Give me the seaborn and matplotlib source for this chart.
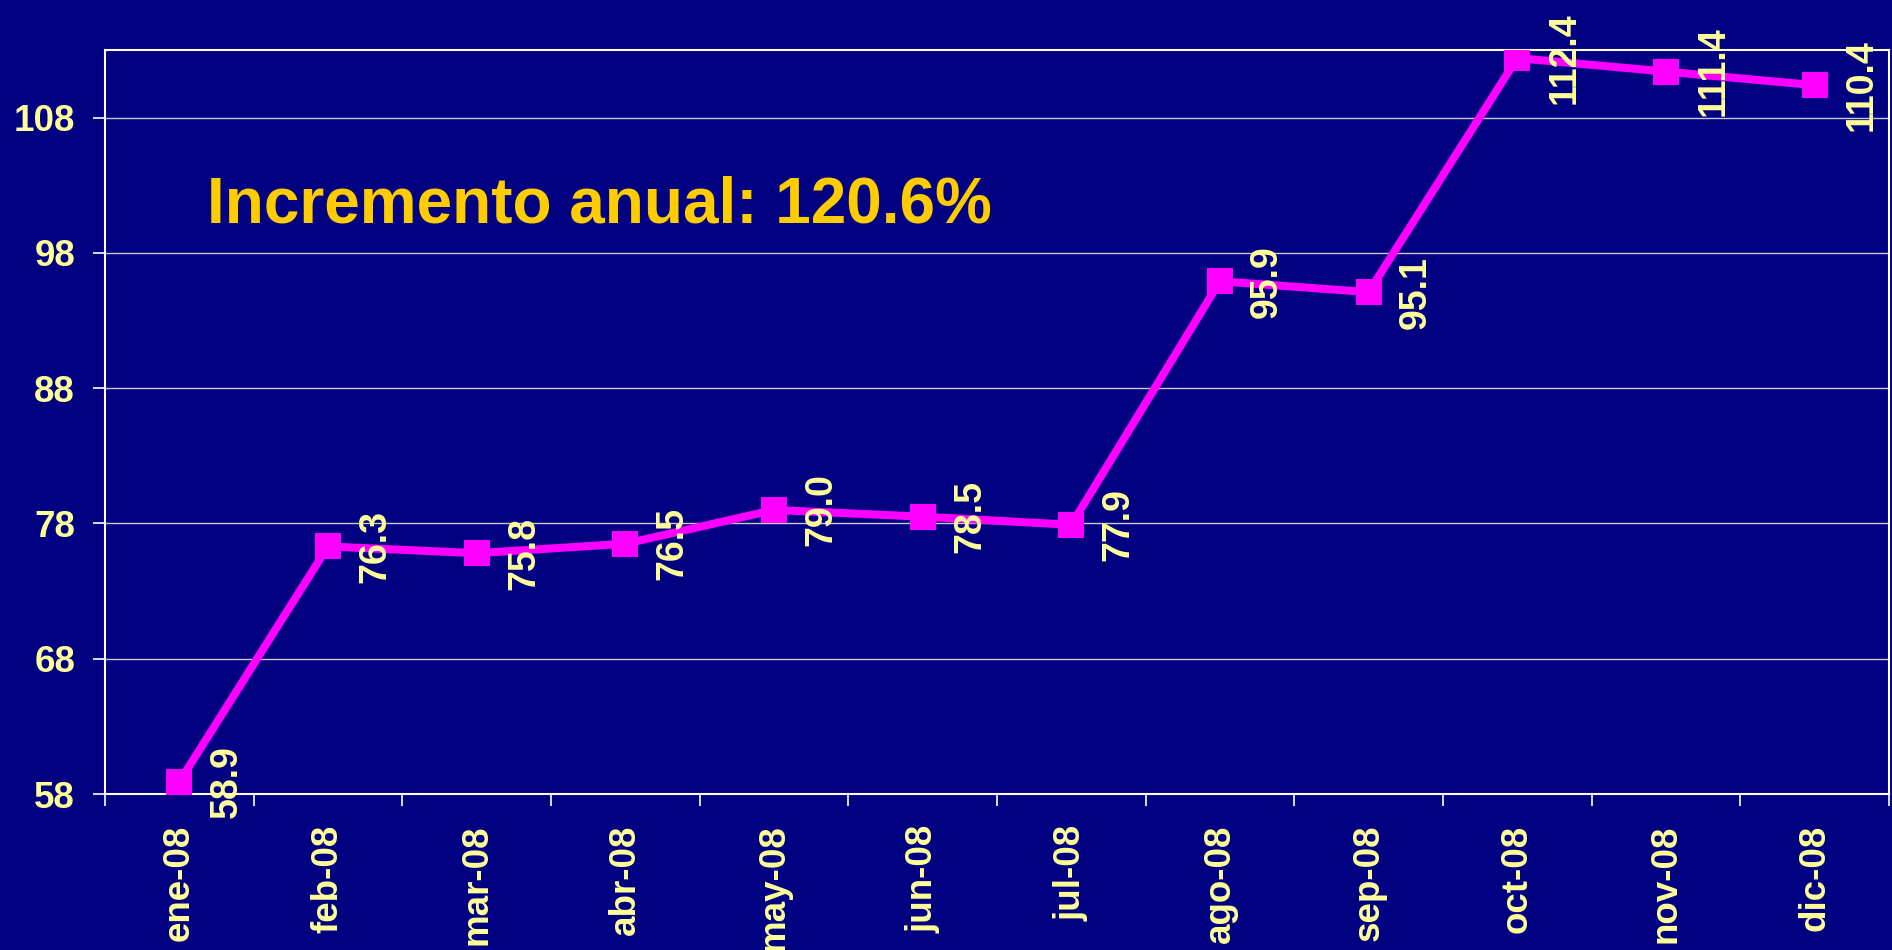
import matplotlib
matplotlib.use("Agg")
import matplotlib.pyplot as plt
import pandas as pd
import seaborn as sns

# monthly values
months = ["ene-08", "feb-08", "mar-08", "abr-08", "may-08", "jun-08",
          "jul-08", "ago-08", "sep-08", "oct-08", "nov-08", "dic-08"]
values = [58.9, 76.3, 75.8, 76.5, 79.0, 78.5, 77.9, 95.9, 95.1, 112.4, 111.4, 110.4]
yticks = [58, 68, 78, 88, 98, 108]
headline = "Incremento anual: 120.6%"

navy = "#000080"
label_yellow = "#FFFF99"
gold = "#FFCC00"
magenta = "#FF00FF"

sns.set_style("dark")
plt.rcParams["font.family"] = ["Liberation Sans", "DejaVu Sans"]
plt.rcParams["font.weight"] = "bold"

df = pd.DataFrame({"pos": range(len(months)), "value": values})

fig = plt.figure(figsize=(18.92, 9.5), dpi=100, facecolor=navy)
ax = fig.add_axes([0.0555, 0.1642, 0.9429, 0.7832])
ax.set_facecolor(navy)

sns.lineplot(data=df, x="pos", y="value", ax=ax, color=magenta, linewidth=5.8,
             marker="s", markersize=19, markeredgewidth=0, sort=False, zorder=3)

# data labels, rotated, to the right of each marker
for i, v in enumerate(values):
    ax.annotate(f"{v:.1f}", xy=(i, v), xytext=(34, 0), textcoords="offset points",
                rotation=90, ha="center", va="center", color=label_yellow,
                fontsize=27, fontweight="bold", annotation_clip=False, zorder=4)

ax.set_xlim(-0.5, len(months) - 0.5)
ax.set_ylim(58, 113)

ax.set_yticks(yticks)
ax.set_yticklabels([str(t) for t in yticks])
ax.set_xticks(range(len(months)))
ax.set_xticklabels(months, rotation=90, va="top", ha="center")
ax.set_xticks([i - 0.5 for i in range(len(months) + 1)], minor=True)

ax.tick_params(axis="y", which="major", length=8.6, width=1.2, color="white",
               pad=13, labelsize=26.5, labelcolor=label_yellow, left=True)
ax.tick_params(axis="x", which="major", length=0, pad=22, labelsize=26.5,
               labelcolor=label_yellow)
ax.tick_params(axis="x", which="minor", length=8.6, width=1.2, color="white",
               bottom=True)

ax.grid(False)
ax.grid(axis="y", which="major", color="#C8C8D8", linewidth=1.0)
ax.set_axisbelow(True)
for side in ["left", "bottom", "top", "right"]:
    ax.spines[side].set_visible(True)
    ax.spines[side].set_color("white")
    ax.spines[side].set_linewidth(1.5)

ax.set_xlabel("")
ax.set_ylabel("")

ax.text(0.057, 0.7675, headline, transform=ax.transAxes, ha="left", va="baseline",
        color=gold, fontsize=46, fontweight="bold")

fig.savefig("out.png", dpi=100, facecolor=navy)
